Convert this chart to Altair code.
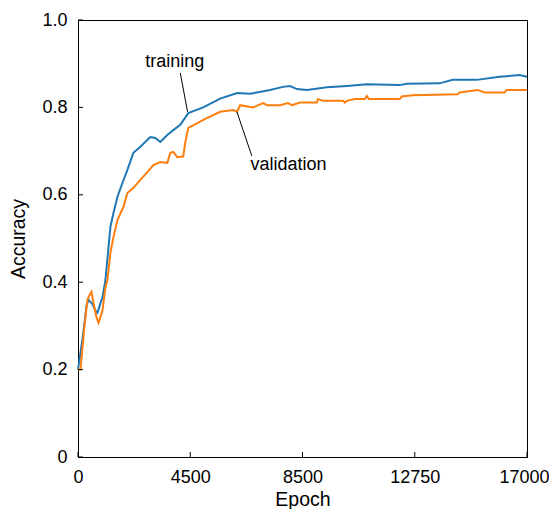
import altair as alt
import pandas as pd

# ---- data ----
train_epoch = [0, 170, 321, 397, 472, 548, 661, 737, 850, 926, 1039, 1228, 1341, 1492, 1681,
               1870, 2097, 2361, 2739, 2928, 3117, 3381, 3608, 3872, 4175, 4741, 5384, 6026,
               6517, 7272, 7763, 8028, 8292, 8670, 9425, 10181, 10937, 12183, 12448, 13694,
               14186, 15092, 15962, 16717, 17000]
train_acc = [0.20, 0.27, 0.345, 0.36, 0.355, 0.35, 0.335, 0.33, 0.352, 0.365, 0.405, 0.527,
             0.558, 0.595, 0.627, 0.657, 0.696, 0.71, 0.732, 0.73, 0.721, 0.737, 0.748, 0.76,
             0.787, 0.80, 0.82, 0.833, 0.831, 0.84, 0.847, 0.849, 0.842, 0.84, 0.846, 0.849,
             0.853, 0.851, 0.854, 0.855, 0.863, 0.863, 0.87, 0.874, 0.870]

val_epoch = [0, 94, 246, 359, 434, 510, 586, 699, 774, 850, 926, 1039, 1114, 1228, 1341, 1492,
             1719, 1870, 2097, 2361, 2626, 2852, 3117, 3381, 3495, 3608, 3759, 3986, 4061, 4175,
             4515, 4893, 5384, 5875, 6026, 6139, 6630, 7008, 7159, 7650, 7952, 8103, 8405, 9047,
             9085, 9274, 10030, 10105, 10181, 10483, 10861, 10937, 11012, 12183, 12259, 12675,
             14375, 14451, 15131, 15395, 16151, 16227, 17000]
val_acc = [0.20, 0.20, 0.30, 0.36, 0.37, 0.378, 0.353, 0.32, 0.307, 0.32, 0.335, 0.388, 0.405,
           0.467, 0.503, 0.542, 0.572, 0.604, 0.616, 0.634, 0.652, 0.668, 0.675, 0.673, 0.696,
           0.698, 0.686, 0.688, 0.72, 0.753, 0.764, 0.776, 0.79, 0.794, 0.79, 0.805, 0.80, 0.81,
           0.805, 0.805, 0.81, 0.805, 0.811, 0.811, 0.819, 0.815, 0.815, 0.811, 0.815, 0.819,
           0.819, 0.826, 0.819, 0.819, 0.825, 0.828, 0.83, 0.834, 0.84, 0.834, 0.834, 0.84, 0.84]

series_names = ["training", "validation"]
series_colors = ["#1f77b4", "#ff7f0e"]

x_tick_values = [0, 4250, 8500, 12750, 17000]
x_tick_labels = ["0", "4500", "8500", "12750", "17000"]
y_tick_values = [0, 0.2, 0.4, 0.6, 0.8, 1.0]
y_tick_labels = ["0", "0.2", "0.4", "0.6", "0.8", "1.0"]

ann_text = ["training", "validation"]
ann_text_x = [3665, 7972]
ann_text_y = [0.893, 0.656]
ann_line_x = [3872, 6015]
ann_line_y = [0.879, 0.790]
ann_line_x2 = [4148, 6581]
ann_line_y2 = [0.790, 0.689]

FONT = "Liberation Sans"

df = pd.concat([
    pd.DataFrame({"epoch": train_epoch, "acc": train_acc, "series": "training"}),
    pd.DataFrame({"epoch": val_epoch, "acc": val_acc, "series": "validation"}),
])


def label_expr(values, labels):
    expr = "''"
    for v, l in reversed(list(zip(values, labels))):
        expr = f"abs(datum.value - {v}) < 1e-6 ? '{l}' : ({expr})"
    return expr


x_scale = alt.Scale(domain=[0, 17000], nice=False)
y_scale = alt.Scale(domain=[0, 1], nice=False)

x_axis = alt.Axis(
    values=x_tick_values, labelExpr=label_expr(x_tick_values, x_tick_labels),
    ticks=False, title="Epoch", labelPadding=11, titlePadding=4.5,
    labelOffset=alt.ConditionalAxisNumber(
        condition={"test": f"datum.value >= {x_tick_values[-1]}", "value": -3}, value=0),
    labelFlush=False, labelOverlap=False)
y_axis = alt.Axis(
    values=y_tick_values, labelExpr=label_expr(y_tick_values, y_tick_labels),
    ticks=False, title="Accuracy", labelPadding=11, titlePadding=13,
    labelFlush=False, labelOverlap=False)

lines = alt.Chart(df).mark_line(strokeWidth=2).encode(
    x=alt.X("epoch:Q", scale=x_scale, axis=x_axis, title="Epoch"),
    y=alt.Y("acc:Q", scale=y_scale, axis=y_axis, title="Accuracy"),
    color=alt.Color("series:N", scale=alt.Scale(domain=series_names, range=series_colors),
                    legend=None),
    order=alt.Order("epoch:Q"),
)

yticks = alt.Chart(pd.DataFrame({"v": y_tick_values})).mark_rule(
    color="black", strokeWidth=1).encode(
    y=alt.Y("v:Q", scale=y_scale, axis=y_axis, title="Accuracy"),
    x=alt.value(0), x2=alt.value(5))

xticks = alt.Chart(pd.DataFrame({"v": x_tick_values})).mark_rule(
    color="black", strokeWidth=1).encode(
    x=alt.X("v:Q", scale=x_scale, axis=x_axis, title="Epoch"),
    y=alt.value(437), y2=alt.value(432))

ann_df = pd.DataFrame({"text": ann_text, "tx": ann_text_x, "ty": ann_text_y,
                       "lx": ann_line_x, "ly": ann_line_y,
                       "lx2": ann_line_x2, "ly2": ann_line_y2})

ann_lines = alt.Chart(ann_df).mark_rule(color="black", strokeWidth=1).encode(
    x=alt.X("lx:Q", scale=x_scale, axis=x_axis, title="Epoch"),
    y=alt.Y("ly:Q", scale=y_scale, axis=y_axis, title="Accuracy"),
    x2="lx2:Q", y2="ly2:Q")

ann_text_layer = alt.Chart(ann_df).mark_text(
    font=FONT, fontSize=18, color="black", align="center", baseline="alphabetic").encode(
    x=alt.X("tx:Q", scale=x_scale, axis=x_axis, title="Epoch"),
    y=alt.Y("ty:Q", scale=y_scale, axis=y_axis, title="Accuracy"),
    text="text:N")

chart = alt.layer(lines, yticks, xticks, ann_lines, ann_text_layer).properties(
    width=449, height=437,
    autosize=alt.AutoSizeParams(type="none"),
    padding={"left": 70, "top": 12, "right": 22, "bottom": 52},
).configure_view(
    stroke="black", strokeWidth=1
).configure_axis(
    domainColor="black", domainWidth=1, grid=False,
    labelFont=FONT, labelFontSize=18, labelColor="black",
    titleFont=FONT, titleFontSize=19.5, titleColor="black", titleFontWeight="normal",
)

chart.save("out.html", embed_options={"renderer": "svg", "actions": False})
